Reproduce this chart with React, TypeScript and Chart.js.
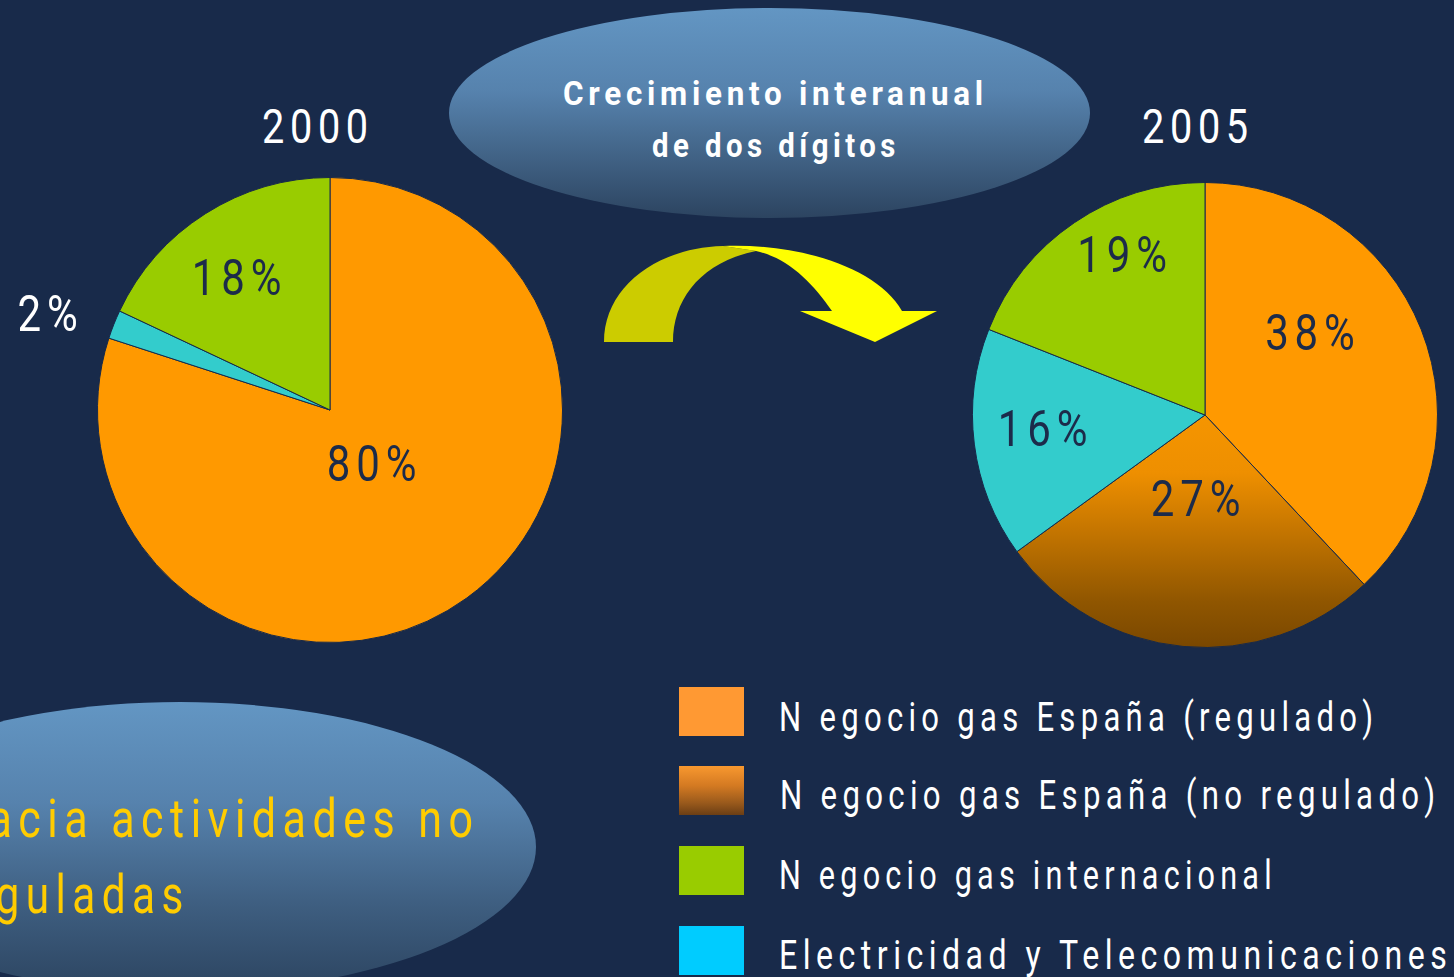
import React, { useEffect, useLayoutEffect, useRef, useState } from "react";
import { Chart, registerables } from "chart.js";

Chart.register(...registerables);

// ---------- data ----------
const years = ["2000", "2005"];
const categories2000 = ["Negocio gas España (regulado)", "Electricidad y Telecomunicaciones", "Negocio gas internacional"];
const values2000 = [80, 2, 18];
const categories2005 = [
  "Negocio gas España (regulado)",
  "Negocio gas España (no regulado)",
  "Electricidad y Telecomunicaciones",
  "Negocio gas internacional",
];
const values2005 = [38, 27, 16, 19];
const legendLabels = [
  "N egocio gas España (regulado)",
  "N egocio gas España (no regulado)",
  "N egocio gas internacional",
  "Electricidad y Telecomunicaciones",
];
const bubbleTop = ["Crecimiento interanual", "de dos dígitos"];
const bubbleBottom = ["acia actividades no", "guladas"];

// ---------- style ----------
const BG = "#182A4A";
const FONT = 'Roboto, "Liberation Sans", sans-serif';
const ORANGE = "#FF9900";
const GREEN = "#99CC00";
const CYAN = "#33CCCC";

// label placement: [fraction of radius, angle offset in degrees from slice middle]
const place2000: [number, number][] = [[0.3, -1], [1.28, -3], [0.69, -3]];
const place2005: [number, number][] = [[0.57, -15.7], [0.37, 0.6], [0.7, 1.9], [0.77, 6.8]];
const labelColor2000 = ["#1C2B4A", "#FFFFFF", "#1C2B4A"];
const labelColor2005 = ["#1C2B4A", "#1C2B4A", "#1C2B4A", "#1C2B4A"];

function makeLabelPlugin(place: [number, number][], colors: string[]) {
  return {
    id: "pctLabels",
    afterDatasetsDraw(chart: any) {
      const ctx = chart.ctx;
      const meta = chart.getDatasetMeta(0);
      const data = chart.data.datasets[0].data as number[];
      meta.data.forEach((arc: any, i: number) => {
        const p = arc.getProps(["x", "y", "startAngle", "endAngle", "outerRadius"], true);
        const mid = (p.startAngle + p.endAngle) / 2 + (place[i][1] * Math.PI) / 180;
        const r = p.outerRadius * place[i][0];
        const x = p.x + Math.cos(mid) * r;
        const y = p.y + Math.sin(mid) * r;
        ctx.save();
        ctx.translate(x, y + 3);
        ctx.scale(0.84, 1);
        ctx.font = `400 50px ${FONT}`;
        (ctx as any).letterSpacing = "7px";
        ctx.textAlign = "center";
        ctx.textBaseline = "middle";
        ctx.fillStyle = colors[i];
        ctx.fillText(`${data[i]}%`, 3, 0);
        ctx.restore();
      });
    },
  };
}

function brownGradient(context: any) {
  const { chart } = context;
  const area = chart.chartArea;
  if (!area) return "#C47500";
  const cy = (area.top + area.bottom) / 2;
  const r = Math.min(area.right - area.left, area.bottom - area.top) / 2;
  const g = chart.ctx.createLinearGradient(0, cy, 0, cy + r);
  g.addColorStop(0, "#F59500");
  g.addColorStop(0.25, "#EE8F00");
  g.addColorStop(0.5, "#C47500");
  g.addColorStop(0.8, "#905600");
  g.addColorStop(1, "#794700");
  return g;
}

function PieChart(props: {
  labels: string[];
  values: number[];
  colors: any[];
  place: [number, number][];
  labelColors: string[];
  padding: { left: number; right: number; top: number; bottom: number };
  box: { left: number; top: number; width: number; height: number };
}) {
  const ref = useRef<HTMLCanvasElement>(null);
  useEffect(() => {
    if (!ref.current) return;
    const colors = props.colors;
    const chart = new Chart(ref.current, {
      type: "pie",
      data: {
        labels: props.labels,
        datasets: [
          {
            data: props.values,
            backgroundColor: (c: any) => {
              const v = colors[c.dataIndex];
              return typeof v === "function" ? v(c) : v;
            },
            borderColor: BG,
            borderWidth: 1,
          },
        ],
      },
      options: {
        animation: false,
        responsive: false,
        events: [],
        layout: { padding: props.padding },
        plugins: { legend: { display: false }, tooltip: { enabled: false }, title: { display: false } },
      },
      plugins: [makeLabelPlugin(props.place, props.labelColors)],
    });
    return () => chart.destroy();
  }, []);
  const b = props.box;
  return (
    <canvas
      ref={ref}
      width={b.width}
      height={b.height}
      style={{ position: "absolute", left: b.left, top: b.top, width: b.width, height: b.height }}
    />
  );
}

// text fitted horizontally to a target width (condensed look)
function FitText(props: {
  text: string;
  x: number;
  baseline: number;
  width: number;
  fontSize: number;
  color: string;
  weight?: number;
  spacing?: number;
  anchor?: "left" | "right";
}) {
  const ref = useRef<HTMLSpanElement>(null);
  const [k, setK] = useState(1);
  const spacing = props.spacing ?? 0;
  useLayoutEffect(() => {
    const measure = () => {
      if (!ref.current) return;
      const w = ref.current.offsetWidth - spacing;
      if (w > 0) setK(props.width / w);
    };
    measure();
    (document as any).fonts?.ready?.then(measure);
  }, []);
  const anchor = props.anchor ?? "left";
  const style: React.CSSProperties = {
    position: "absolute",
    top: props.baseline - 0.842 * props.fontSize,
    whiteSpace: "nowrap",
    color: props.color,
    fontFamily: FONT,
    fontSize: props.fontSize,
    fontWeight: props.weight ?? 400,
    letterSpacing: spacing,
    lineHeight: `${props.fontSize}px`,
    transform: `scaleX(${k})`,
    transformOrigin: anchor === "left" ? "left top" : "right top",
  };
  if (anchor === "left") style.left = props.x;
  else style.right = 1454 - props.x - spacing * k;
  return (
    <span ref={ref} style={style}>
      {props.text}
    </span>
  );
}

const legendSwatches = [
  { background: "#FF9933" },
  { background: "linear-gradient(to bottom, #F8982F 0%, #D47A22 40%, #9A5A1C 75%, #6B3E14 100%)" },
  { background: "#99CC00" },
  { background: "#00CCFF" },
];
const legendTops = [687, 766, 846, 926];
const legendBaselines = [732, 810, 890, 970];
const legendWidths = [594, 655, 493, 668];

export default function App() {
  return (
    <div
      style={{
        position: "fixed",
        left: 0,
        top: 0,
        width: 1454,
        height: 977,
        background: BG,
        overflow: "hidden",
        fontFamily: FONT,
      }}
    >
      {/* top bubble */}
      <div
        style={{
          position: "absolute",
          left: 449,
          top: 8,
          width: 641,
          height: 210,
          borderRadius: "50%",
          background: "linear-gradient(to bottom, #6396C3 0%, #5682AD 40%, #3E5E80 75%, #2C4460 100%)",
        }}
      />
      <FitText text={bubbleTop[0]} x={563} baseline={105} width={420} fontSize={33} color="#FFFFFF" weight={700} spacing={5} />
      <FitText text={bubbleTop[1]} x={652} baseline={157} width={243} fontSize={33} color="#FFFFFF" weight={700} spacing={5} />

      {/* year titles */}
      <FitText text={years[0]} x={262} baseline={143} width={106} fontSize={49} color="#FFFFFF" spacing={7} />
      <FitText text={years[1]} x={1142} baseline={143} width={106} fontSize={49} color="#FFFFFF" spacing={7} />

      {/* arrow */}
      <svg width={1454} height={977} style={{ position: "absolute", left: 0, top: 0 }}>
        <path d="M604,342 C604,288 655,248 723,246 L756,251 C702,262 673,298 673,342 Z" fill="#CCCC00" />
        <path d="M723,246 C800,243 878,268 902,311 L937,311 L875,342 L800,311 L832,311 C812,282 788,258 756,251 Z" fill="#FFFF00" />
      </svg>

      <PieChart
        labels={categories2000}
        values={values2000}
        colors={[ORANGE, CYAN, GREEN]}
        place={place2000}
        labelColors={labelColor2000}
        padding={{ left: 97, right: 97, top: 117, bottom: 117 }}
        box={{ left: 0, top: 60, width: 660, height: 700 }}
      />
      <PieChart
        labels={categories2005}
        values={values2005}
        colors={[ORANGE, brownGradient, CYAN, GREEN]}
        place={place2005}
        labelColors={labelColor2005}
        padding={{ left: 17, right: 17, top: 17, bottom: 17 }}
        box={{ left: 955, top: 165, width: 500, height: 500 }}
      />

      {/* bottom bubble */}
      <div
        style={{
          position: "absolute",
          left: -176,
          top: 702,
          width: 712,
          height: 290,
          borderRadius: "50%",
          background: "linear-gradient(to bottom, #6396C3 0%, #5682AD 35%, #3E5E80 70%, #2C4460 100%)",
        }}
      />
      <FitText text={bubbleBottom[0]} x={473} baseline={838} width={485} fontSize={53} color="#FFCC00" spacing={8} anchor="right" />
      <FitText text={bubbleBottom[1]} x={183} baseline={914} width={188} fontSize={53} color="#FFCC00" spacing={8} anchor="right" />

      {/* legend */}
      {legendLabels.map((t, i) => (
        <React.Fragment key={t}>
          <div style={{ position: "absolute", left: 679, top: legendTops[i], width: 65, height: 49, ...legendSwatches[i] }} />
          <FitText text={t} x={i === 1 ? 780 : 779} baseline={legendBaselines[i]} width={legendWidths[i]} fontSize={41} color="#FFFFFF" spacing={7} />
        </React.Fragment>
      ))}
    </div>
  );
}
